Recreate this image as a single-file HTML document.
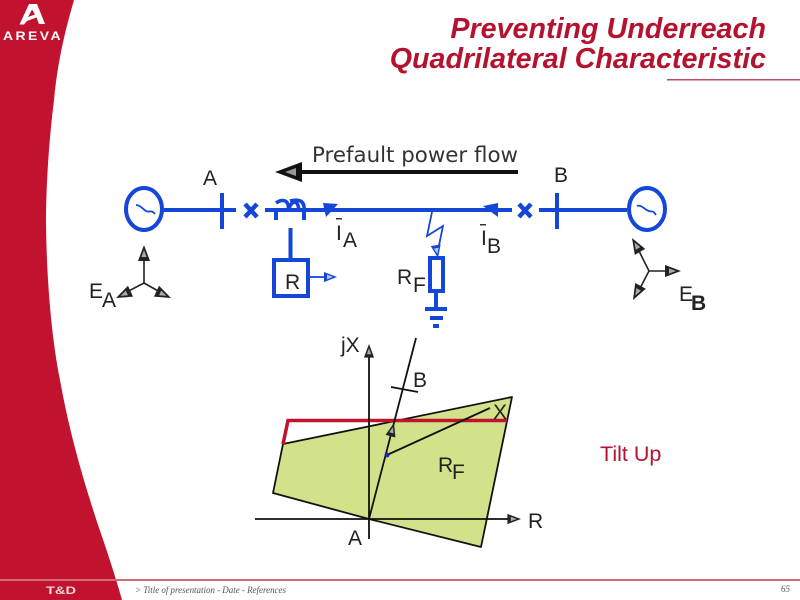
<!DOCTYPE html>
<html><head><meta charset="utf-8"><style>html,body{margin:0;padding:0;background:#fff}svg{display:block}text{font-family:"Liberation Sans",sans-serif;fill:#222}</style></head><body>
<svg width="800" height="600" viewBox="0 0 800 600" xmlns="http://www.w3.org/2000/svg">
<defs>
<g id="ah"><path d="M0 0L-16 -6V6Z" fill="#222"/><path d="M-5 0L-12 -2.600V2.600Z" fill="#aaa"/></g>
<g id="ahb"><path d="M0 0L-13 -5V5Z" fill="#1446d8"/><path d="M-4 0L-10 -2.400V2.400Z" fill="#b8c8f0"/></g>
</defs>
<path d="M0 0H74C66 28 58 58 54 100C49 140 46.500 180 46 215C46 265 50 330 60 380C68 425 80 470 98 525C106 548 115 575 122 600H0Z" fill="#c1122f"/>
<path d="M29 4H37L45 24H39L36.500 17.500L27 21L24 24.500H19.500ZM32 9.500L28 17L35 14.500Z" fill="#fff" fill-rule="evenodd"/>
<text x="3" y="40" font-size="11.500" font-weight="bold" style="fill:#fff;letter-spacing:2px" textLength="60" lengthAdjust="spacingAndGlyphs">AREVA</text>
<text x="766" y="38" text-anchor="end" font-size="28.700" font-weight="bold" font-style="italic" style="fill:#b5122f">Preventing Underreach</text>
<text x="766" y="68" text-anchor="end" font-size="28.700" font-weight="bold" font-style="italic" style="fill:#b5122f">Quadrilateral Characteristic</text>
<rect x="667" y="79" width="133" height="1.500" fill="#c24b60"/>
<rect x="0" y="579" width="800" height="2" fill="#cf6a7b"/>
<text x="46" y="594" font-size="11" font-weight="bold" style="fill:#f3d5da" textLength="30" lengthAdjust="spacingAndGlyphs">T&amp;D</text>
<text x="135" y="593" font-size="9" font-style="italic" style="font-family:'Liberation Serif',serif;fill:#555" textLength="151">&gt; Title of presentation - Date - References</text>
<text x="781" y="592" font-size="9" font-style="italic" style="font-family:'Liberation Serif',serif;fill:#555">65</text>

<path d="M275 172L302 162V182Z" fill="#111"/><path d="M285 172L296 168V176Z" fill="#999"/>
<rect x="300" y="170" width="218" height="4" fill="#111"/>
<text x="312" y="162" font-size="21.500" style="font-family:'DejaVu Sans',sans-serif;fill:#333" textLength="206" lengthAdjust="spacingAndGlyphs">Prefault power flow</text>

<g fill="none" stroke="#1446d8" stroke-width="4">
<ellipse cx="144" cy="209" rx="18" ry="21"/>
<ellipse cx="647" cy="209" rx="18" ry="21"/>
<path d="M163 210H236M222 193V229M265 210H512M539 210H627M557 193V229"/>
<path d="M245 204L257 217M257 204L245 217M519 204L531 217M531 204L519 217" stroke-width="4.500"/>
<path d="M276 210V220M304 210V220M290.500 228V260"/>
<path d="M276 203C282 199 290 199 288 211C292 199 298 199 299 211M290 201C298 199 305 200 304 210" stroke-width="3.500"/>
<rect x="274" y="260" width="34" height="36"/>
<rect x="430" y="258" width="13" height="33"/>
<path d="M436 291V308M425 309H447M430 318H443M433 326H439"/>
<path d="M432 212L427 236L443 226L437 255" stroke-width="1.800"/>
<path d="M309 277H325" stroke-width="1.800"/>
</g>
<path d="M136 205C140 205 143 209 146 211C149 213 151 209 155 214" fill="none" stroke="#1446d8" stroke-width="1.800"/>
<path d="M637 206C641 204 645 210 649 211C652 212 653 210 656 215" fill="none" stroke="#1446d8" stroke-width="1.800"/>
<use href="#ahb" transform="translate(337 277)"/>
<use href="#ahb" transform="translate(438 258) rotate(80)"/>
<path d="M338 204L323 203L326 217Z" fill="#1446d8"/>
<path d="M483 206L498 203V217Z" fill="#1446d8"/>

<g fill="none" stroke="#222" stroke-width="1.600">
<path d="M144 283V250M144 283L121 295M144 283L167 296M649 271H676M649 271L635 243M649 271L636 296"/>
</g>
<use href="#ah" transform="translate(144 245) rotate(-90)"/>
<use href="#ah" transform="translate(116 298) rotate(155)"/>
<use href="#ah" transform="translate(171 298) rotate(25)"/>
<use href="#ah" transform="translate(681 271)"/>
<use href="#ah" transform="translate(632 238) rotate(-120)"/>
<use href="#ah" transform="translate(633 300) rotate(118)"/>

<text x="203" y="185" font-size="21">A</text>
<text x="554" y="182" font-size="21">B</text>
<text x="285" y="289" font-size="21">R</text>
<text x="397" y="284" font-size="21">R</text><text x="413" y="292" font-size="21">F</text>
<text x="89" y="298" font-size="21">E</text><text x="102" y="307" font-size="21">A</text>
<text x="679" y="301" font-size="21">E</text><text x="691" y="310" font-size="21" font-weight="bold">B</text>
<rect x="336" y="218" width="6" height="1.500" fill="#334"/>
<text x="336" y="240" font-size="21">I</text><text x="343" y="247" font-size="21">A</text>
<rect x="480" y="224" width="6" height="1.500" fill="#334"/>
<text x="481" y="245" font-size="21">I</text><text x="487" y="253" font-size="21">B</text>

<path d="M512 397L481 547L369 519L273 493L283 444Z" fill="#d2e28a" stroke="#111" stroke-width="1.800" stroke-linejoin="round"/>
<path d="M283 444L288 420.500H507" fill="none" stroke="#c1122f" stroke-width="3.500"/>
<g fill="none" stroke="#111" stroke-width="1.800">
<path d="M369 539V352M255 519H510M369 519L416 338M391 387L418 392M387 455L490 408"/>
</g>
<use href="#ah" transform="translate(369 344) rotate(-90) scale(.85)"/>
<use href="#ah" transform="translate(521 519) scale(.85)"/>
<use href="#ah" transform="translate(394 423) rotate(-75) scale(.85)"/>
<circle cx="387" cy="455" r="2.500" fill="#1a2a9a"/>
<text x="341" y="352" font-size="21">jX</text>
<text x="413" y="387" font-size="21">B</text>
<text x="493" y="419" font-size="21">X</text>
<text x="438" y="472" font-size="21">R</text><text x="452" y="479" font-size="21">F</text>
<text x="528" y="528" font-size="21">R</text>
<text x="348" y="545" font-size="21">A</text>
<text x="600" y="461" font-size="21.500" style="fill:#b5122f">Tilt Up</text>
</svg>
</body></html>
